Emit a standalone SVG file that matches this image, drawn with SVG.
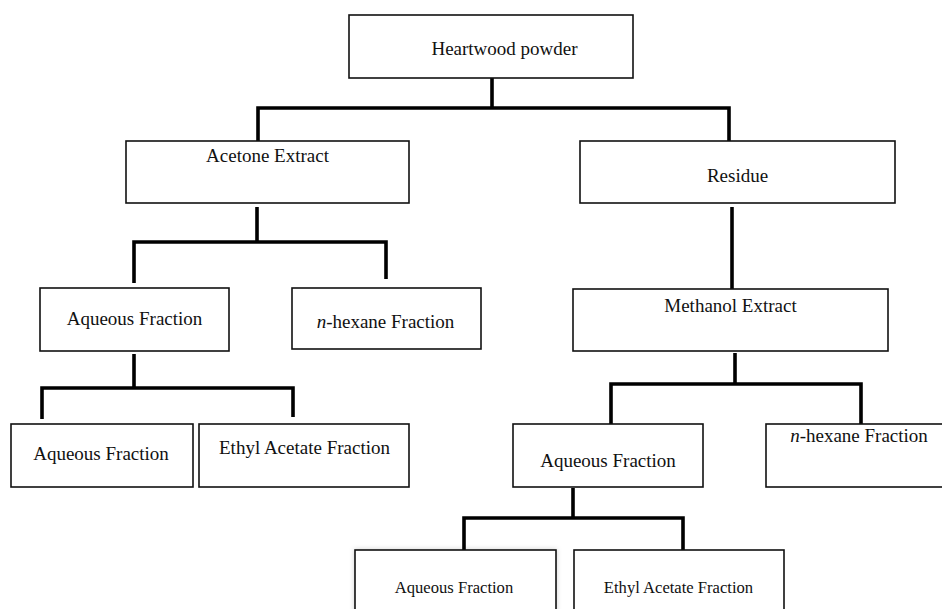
<svg xmlns="http://www.w3.org/2000/svg" width="942" height="609" viewBox="0 0 942 609">
<defs>
<style>
.box{fill:#fff;stroke:#111;stroke-width:1.6}
.t{font-family:"Liberation Serif","Times New Roman",serif;font-size:19px;fill:#111;text-anchor:middle}
.s{font-size:16.6px}
.c{fill:none;stroke:#000;stroke-width:3.6;stroke-linejoin:miter}
</style>
<filter id="glow" x="-10%" y="-20%" width="120%" height="140%">
<feDropShadow dx="0" dy="0" stdDeviation="2.5" flood-color="#000" flood-opacity="0.18"/>
</filter>
</defs>
<rect width="942" height="609" fill="#fff"/>
<g id="connectors">
<path class="c" d="M492 78 V108 M258 141 V108 H729 V141"/>
<path class="c" d="M257 207 V242 M134 283 V242 H386 V279"/>
<path class="c" d="M134 354 V388 M42 419 V388 H293 V417"/>
<path class="c" d="M732 207 V289"/>
<path class="c" d="M735 353 V384 M611 426 V384 H861 V430"/>
<path class="c" d="M573 488 V518 M464 550 V518 H683 V550"/>
</g>
<g id="heartwood"><rect class="box" x="349" y="15" width="284" height="63"/><text class="t" x="504.5" y="55">Heartwood powder</text></g>
<g id="acetone"><rect class="box" x="126" y="141" width="283" height="62"/><text class="t" x="267.5" y="162">Acetone Extract</text></g>
<g id="residue"><rect class="box" x="580" y="141" width="315" height="62"/><text class="t" x="737.5" y="182">Residue</text></g>
<g id="aqueous1"><rect class="box" x="40" y="288" width="189" height="63"/><text class="t" x="134.5" y="325">Aqueous Fraction</text></g>
<g id="hexane1"><rect class="box" x="292" y="288" width="189" height="61"/><text class="t" x="385.5" y="328"><tspan font-style="italic">n</tspan>-hexane Fraction</text></g>
<g id="methanol"><rect class="box" x="573" y="289" width="315" height="62"/><text class="t" x="730.5" y="312">Methanol Extract</text></g>
<g id="aqueous2"><rect class="box" x="11" y="424" width="182" height="63"/><text class="t" x="101" y="460">Aqueous Fraction</text></g>
<g id="ethyl1"><rect class="box" x="199" y="424" width="210" height="63"/><text class="t" x="304.5" y="454">Ethyl Acetate Fraction</text></g>
<g id="aqueous3"><rect class="box" x="513" y="424" width="190" height="63"/><text class="t" x="608" y="467">Aqueous Fraction</text></g>
<g id="hexane2"><rect class="box" x="766" y="424" width="186" height="63"/><text class="t" x="859" y="442"><tspan font-style="italic">n</tspan>-hexane Fraction</text></g>
<g id="aqueous4"><rect class="box" x="355" y="550" width="201" height="70" filter="url(#glow)"/><text class="t s" x="454" y="593">Aqueous Fraction</text></g>
<g id="ethyl2"><rect class="box" x="574" y="550" width="210" height="70"/><text class="t s" x="678.5" y="593">Ethyl Acetate Fraction</text></g>
</svg>
